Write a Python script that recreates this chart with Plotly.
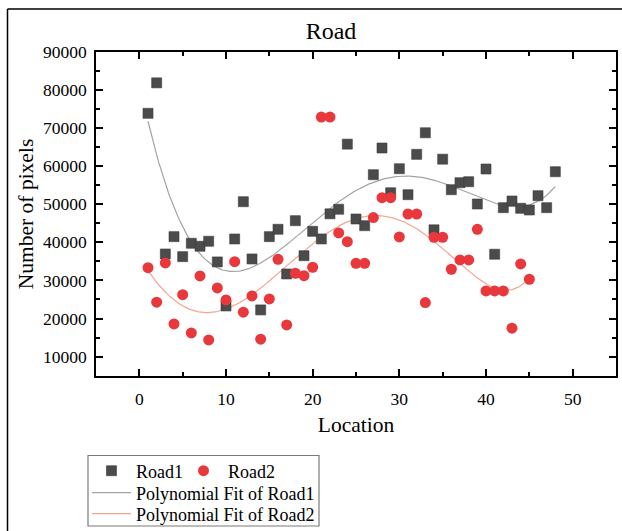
import numpy as np
import plotly.graph_objects as go

# ---- data ----
road1_x = list(range(1, 49))
road1_y = [73900, 81900, 36950, 41500, 36250, 39760, 38980, 40290, 34860, 23300,
           40890, 50680, 35640, 22260, 41500, 43440, 31700, 45700, 36500, 42900,
           40900, 47500, 48700, 65800, 46140, 44380, 57770, 64780, 53040, 59340,
           52520, 63120, 68790, 43300, 61850, 53830, 55670, 55930, 50080, 59270,
           36880, 49110, 50870, 48950, 48500, 52260, 49110, 58560]

road2_x = list(range(1, 46))
road2_y = [33360, 24280, 34600, 18580, 26270, 16220, 31180, 14380, 28030, 24880,
           34930, 21650, 25930, 14570, 25140, 35560, 18320, 31890, 31260, 33460,
           72910, 72910, 42470, 40180, 34510, 34510, 46500, 51730, 51730, 41420,
           47450, 47450, 24200, 41340, 41340, 32940, 35380, 35380, 43440, 27240,
           27240, 27240, 17450, 34330, 30310]

x_ticks = [0, 10, 20, 30, 40, 50]
y_ticks = [10000, 20000, 30000, 40000, 50000, 60000, 70000, 80000, 90000]
fit_degree = 5

# ---- polynomial fits computed from the data ----
def poly_fit(xs, ys, deg):
    c = np.polyfit(np.array(xs, float), np.array(ys, float), deg)
    xf = np.linspace(min(xs), max(xs), 300)
    return xf, np.polyval(c, xf)

f1x, f1y = poly_fit(road1_x, road1_y, fit_degree)
f2x, f2y = poly_fit(road2_x, road2_y, fit_degree)

SERIF = "Liberation Serif, Times New Roman, serif"

fig = go.Figure()
fig.add_trace(go.Scatter(x=f1x, y=f1y, mode="lines", name="Polynomial Fit of Road1",
                         line=dict(color="#a3a3a3", width=1.2), legend="legend2"))
fig.add_trace(go.Scatter(x=f2x, y=f2y, mode="lines", name="Polynomial Fit of Road2",
                         line=dict(color="#f5a491", width=1.2), legend="legend3"))
fig.add_trace(go.Scatter(x=road1_x, y=road1_y, mode="markers", name="Road1",
                         marker=dict(symbol="square", size=10, color="#4b4b4b",
                                     line=dict(color="#3c3c3c", width=0.6)),
                         legend="legend"))
fig.add_trace(go.Scatter(x=road2_x, y=road2_y, mode="markers", name="Road2",
                         marker=dict(symbol="circle", size=11, color="#e8383c",
                                     line=dict(color="#e8383c", width=0)),
                         legend="legend4"))

W, H = 622, 531
ML, MR, MT, MB = 96, 6, 52, 155
PW, PH = W - ML - MR, H - MT - MB

def px_x(p):
    return (p - ML) / PW

def px_y(p):
    return (H - MB - p) / PH

axis_common = dict(
    showline=True, linecolor="black", linewidth=1.5, mirror="allticks",
    ticks="inside", ticklen=7, tickwidth=1.5, tickcolor="black",
    showgrid=False, zeroline=False,
    tickfont=dict(family=SERIF, size=17.5, color="black"),
)

fig.update_xaxes(
    range=[-5, 55], tickvals=x_ticks,
    minor=dict(dtick=5, tick0=0, ticks="inside", ticklen=4, tickwidth=1.5, tickcolor="black"),
    title=dict(text="Location", font=dict(family=SERIF, size=21.5, color="black"), standoff=9),
    ticklabelstandoff=6,
    **axis_common,
)
fig.update_yaxes(
    range=[4900, 90000], tickvals=y_ticks, tickformat="d",
    minor=dict(dtick=5000, tick0=0, ticks="inside", ticklen=4, tickwidth=1.5, tickcolor="black"),
    title=dict(text="Number of pixels", font=dict(family=SERIF, size=21.5, color="black"), standoff=3),
    ticklabelstandoff=4,
    **axis_common,
)

leg_common = dict(bgcolor="rgba(0,0,0,0)", borderwidth=0, itemwidth=39,
                  font=dict(family=SERIF, size=18, color="black"),
                  xanchor="left", yanchor="middle")

fig.update_layout(
    width=W, height=H,
    margin=dict(l=ML, r=MR, t=MT, b=MB, pad=0, autoexpand=False),
    paper_bgcolor="white", plot_bgcolor="white",
    title=dict(text="Road", font=dict(family=SERIF, size=24, color="black"),
               x=px_x(331), xref="paper", xanchor="center",
               y=1 - 31 / H, yref="container", yanchor="middle"),
    legend=dict(x=px_x(87), y=px_y(471), **leg_common),
    legend4=dict(x=px_x(179), y=px_y(471), **leg_common),
    legend2=dict(x=px_x(87), y=px_y(493), **leg_common),
    legend3=dict(x=px_x(87), y=px_y(514), **leg_common),
    showlegend=True,
    shapes=[
        # legend frame
        dict(type="rect", xref="paper", yref="paper",
             x0=px_x(88), x1=px_x(319), y0=px_y(526), y1=px_y(455.5),
             line=dict(color="#7a7a7a", width=1.2), fillcolor="rgba(0,0,0,0)", layer="above"),
        # outer figure frame (left and top edges)
        dict(type="line", xref="paper", yref="paper",
             x0=px_x(7.5), x1=px_x(7.5), y0=px_y(540), y1=px_y(9),
             line=dict(color="black", width=1.5)),
        dict(type="line", xref="paper", yref="paper",
             x0=px_x(7.5), x1=px_x(640), y0=px_y(9), y1=px_y(9),
             line=dict(color="black", width=1.5)),
    ],
)

fig.write_html("out.html")
